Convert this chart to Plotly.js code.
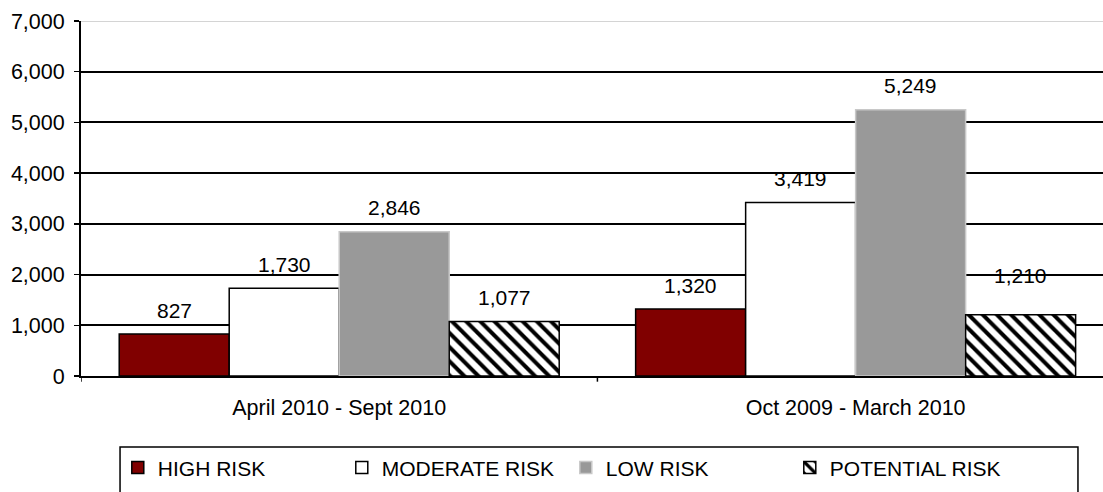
<!DOCTYPE html>
<html>
<head>
<meta charset="utf-8">
<script src="https://cdn.plot.ly/plotly-3.0.1.min.js"></script>
<style>
  html, body { margin: 0; padding: 0; background: #fff; }
  #chart { width: 1103px; height: 492px; }
</style>
</head>
<body>
<div id="chart"></div>
<script>
// Two reporting periods, four risk levels.
const periods = ["April 2010 - Sept 2010", "Oct 2009 - March 2010"];
const highRisk = [827, 1320];
const moderateRisk = [1730, 3419];
const lowRisk = [2846, 5249];
const potentialRisk = [1077, 1210];
const seriesNames = ["HIGH RISK", "MODERATE RISK", "LOW RISK", "POTENTIAL RISK"];
const yTicks = [0, 1000, 2000, 3000, 4000, 5000, 6000, 7000];

const font = "Liberation Sans, Arial, sans-serif";
const fmt = v => v.toLocaleString("en-US");

// x positions are category indexes so the labels can sit over each bar
const xIdx = periods.map((_, i) => i);
const bargap = 0.148;

const styles = [
  { color: "#800000", line: { color: "#000", width: 1.5 } },
  { color: "#ffffff", line: { color: "#000", width: 1.5 } },
  { color: "#999999", line: { color: "#c8c8c8", width: 1.5 } },
  {
    color: "#ffffff",
    line: { color: "#000", width: 1.5 },
    pattern: { shape: "\\", fgcolor: "#000", bgcolor: "#fff", size: 10, solidity: 0.4 }
  }
];

const allSeries = [highRisk, moderateRisk, lowRisk, potentialRisk];

const traces = allSeries.map((vals, s) => ({
  type: "bar",
  name: seriesNames[s],
  x: xIdx,
  y: vals,
  marker: styles[s],
  hoverinfo: "skip"
}));

// value labels above the bars
const barW = (1 - bargap) / allSeries.length;
const annotations = [];
allSeries.forEach((vals, s) => {
  vals.forEach((v, i) => {
    const off = -(1 - bargap) / 2 + barW * (s + 0.5);
    annotations.push({
      x: i + off, y: v, xref: "x", yref: "y",
      text: fmt(v), showarrow: false,
      yanchor: "middle",
      yshift: (s === 3 && i === 1) ? 39 : 24,
      font: { family: font, size: 21, color: "#000" }
    });
  });
});

const layout = {
  width: 1103,
  height: 492,
  margin: { l: 81, r: 0, t: 21, b: 116, autoexpand: false },
  paper_bgcolor: "#fff",
  plot_bgcolor: "#fff",
  barmode: "group",
  bargap: bargap,
  bargroupgap: 0,
  showlegend: true,
  font: { family: font, size: 21, color: "#000" },
  xaxis: {
    type: "linear",
    range: [-0.5, 1.479],
    tickvals: xIdx,
    ticktext: periods,
    ticks: "",
    showgrid: false,
    zeroline: false,
    showline: true,
    linecolor: "#000",
    linewidth: 1.5,
    ticklabelstandoff: 12,
    tickfont: { family: font, size: 21.5, color: "#000" }
  },
  yaxis: {
    range: [0, 7000],
    tickvals: yTicks,
    ticktext: yTicks.map(fmt),
    ticks: "outside",
    ticklen: 5,
    tickwidth: 1.5,
    tickcolor: "#000",
    showline: true,
    linecolor: "#000",
    linewidth: 2,
    showgrid: true,
    gridcolor: "#000",
    gridwidth: 2,
    zeroline: false,
    ticklabelstandoff: 5,
    tickfont: { family: font, size: 21.5, color: "#000" }
  },
  legend: {
    orientation: "h",
    x: 0.036,
    xanchor: "left",
    y: -0.201,
    yanchor: "top",
    entrywidth: 179,
    entrywidthmode: "pixels",
    itemwidth: 30,
    bgcolor: "rgba(0,0,0,0)",
    font: { family: font, size: 21, color: "#000" }
  },
  shapes: [
    // ticks at the category boundaries
    { type: "line", xref: "x", yref: "paper", x0: 0.5, x1: 0.5, y0: 0, y1: -0.016,
      line: { color: "#000", width: 1.5 } },
    { type: "line", xref: "x", yref: "paper", x0: -0.5, x1: -0.5, y0: 0, y1: -0.016,
      line: { color: "#000", width: 1.5 } },
    // light top border of the plot
    { type: "line", xref: "paper", yref: "y", x0: 0, x1: 1, y0: 7000, y1: 7000,
      line: { color: "#d4d4d4", width: 2 } },
    // legend frame (runs off the bottom of the picture)
    { type: "rect", xref: "paper", yref: "paper",
      x0: 0.0382, x1: 0.9755, y0: -0.2, y1: -0.36,
      line: { color: "#000", width: 1.5 } }
  ],
  annotations: annotations
};

Plotly.newPlot("chart", traces, layout, { displayModeBar: false, staticPlot: true });
</script>
</body>
</html>
